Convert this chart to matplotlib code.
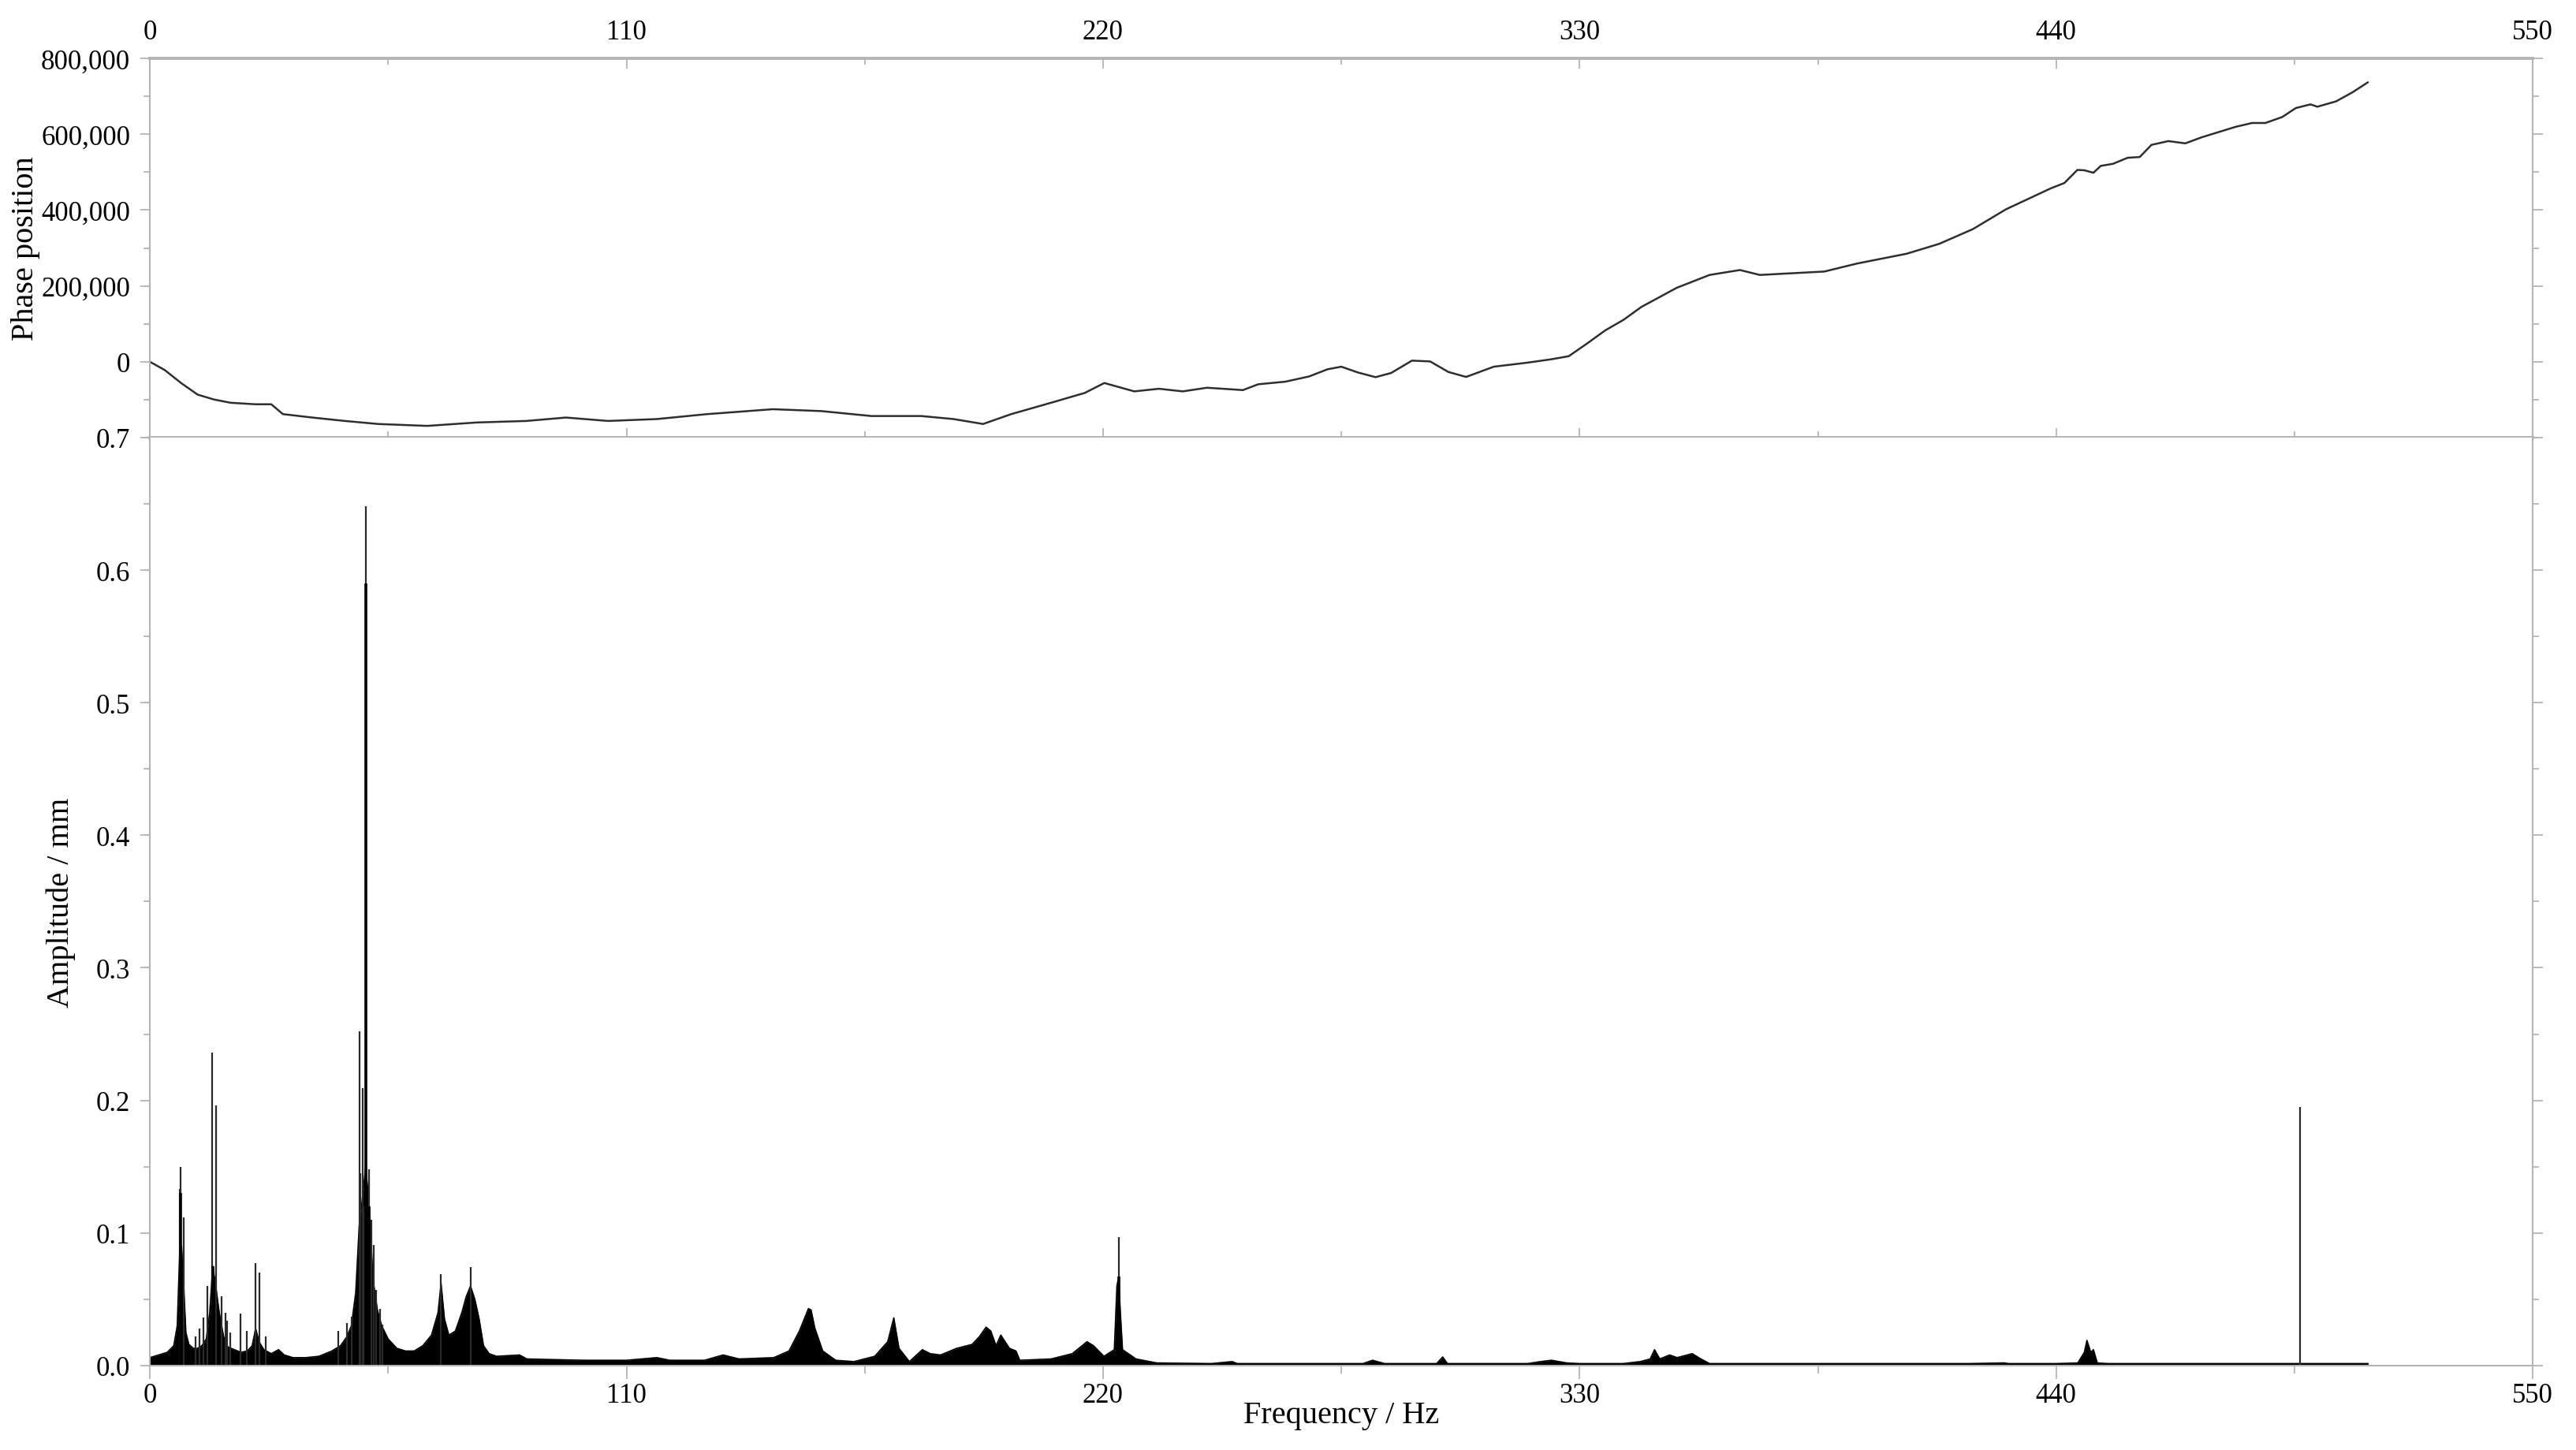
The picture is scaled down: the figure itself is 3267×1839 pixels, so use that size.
import matplotlib
matplotlib.use('Agg')
import matplotlib.pyplot as plt
from matplotlib.ticker import MultipleLocator, FuncFormatter
import numpy as np

plt.rcParams['font.family'] = ['Liberation Serif', 'DejaVu Serif']

# phase position curve (top panel)
phase_freq = [0, 3.4, 7.2, 11, 14.8, 18.6, 24.3, 28, 30.7, 37.5, 45, 52.7, 64, 75.5,
              86.9, 96, 105.8, 117, 128.6, 143.8, 155, 166.5, 178, 185.5, 192.3, 198.8,
              208, 215.8, 220.3, 227.2, 232.9, 238.4, 244, 252.3, 255.8, 262.1, 267.6,
              271.8, 275, 278.8, 282.9, 286.5, 291.3, 295.5, 299.7, 303.8, 310.2, 317.8,
              323.4, 327.5, 331.7, 335.9, 340.1, 344.3, 347.7, 352.4, 360, 367, 371.6,
              379, 386.5, 394, 405.5, 413, 420.8, 428.4, 438.7, 441.9, 444.9, 446.5,
              448.6, 450.3, 453.1, 456.5, 459.3, 462, 465.9, 469.8, 473.6, 481.4, 485.2,
              488.3, 492.2, 495.3, 498.7, 500.3, 504.6, 508.4, 511.9]
phase_val = [0, -21600, -56000, -86500, -99500, -108000, -112000, -112000, -138000,
             -147000, -156000, -164000, -169000, -160000, -156000, -147000, -156000,
             -151000, -138000, -125000, -130000, -143000, -143000, -151000, -164000,
             -138000, -108000, -82000, -55900, -78000, -71100, -78000, -68400, -74600,
             -59300, -52400, -38500, -19800, -12900, -28100, -40500, -29500, 3100, 1000,
             -26800, -39900, -12900, -2500, 6500, 14800, 48000, 82700, 110400, 145000,
             165900, 195000, 229000, 242000, 229000, 233500, 238000, 259000, 285000,
             311000, 350000, 402000, 457000, 471500, 506000, 505000, 498500, 516600,
             522000, 538000, 540000, 572000, 582000, 576000, 592000, 619500, 629700,
             629700, 645500, 669000, 678800, 672600, 686700, 710600, 736600]

# amplitude spectrum envelope (dark body of the spectrum)
env_freq = [0, 2, 4, 5.5, 6.3, 6.9, 7.3, 7.8, 8.3, 9, 10, 11, 12, 13, 13.8, 14.5, 15.2,
            16, 17, 18, 19.5, 21, 22.5, 23.6, 24.4, 25.2, 26.3, 28, 29.7, 31, 33, 36,
            39, 42, 44, 45.5, 46.5, 47.5, 48.3, 49, 49.8, 50.5, 51.5, 52.5, 53.5, 55,
            57, 59, 61, 63, 65, 66.5, 67.2, 68, 69, 70.5, 72, 73, 74, 75, 76, 77, 78.3,
            80, 85.3, 87, 100, 110, 117, 120, 128, 132.3, 136, 144, 147.5, 149.9, 152,
            152.6, 153.5, 155.3, 158.3, 162.5, 167.3, 170.3, 171.7, 172.9, 175.3, 178.3,
            180.1, 182.5, 186.2, 189.8, 191.5, 193, 194.1, 195.3, 196.4, 198.4, 199.9,
            200.8, 208, 212.9, 216.3, 217.8, 220.2, 222.6, 223.2, 223.6, 224, 224.5,
            227.6, 232.4, 245, 249.8, 251, 280, 282.2, 285, 297, 298.4, 299.5, 318,
            321, 323.5, 327, 330, 340, 344, 346.3, 347.3, 348.5, 350.8, 352.5, 356, 358,
            360, 420, 428, 429, 440, 445, 446.5, 447.1, 448, 448.6, 449.5, 452, 512]
env_amp = [0.006, 0.008, 0.010, 0.015, 0.030, 0.088, 0.090, 0.060, 0.025, 0.016, 0.013,
           0.013, 0.015, 0.020, 0.040, 0.075, 0.060, 0.040, 0.022, 0.014, 0.012, 0.010,
           0.011, 0.015, 0.028, 0.018, 0.012, 0.009, 0.012, 0.008, 0.006, 0.006, 0.007,
           0.011, 0.015, 0.022, 0.030, 0.055, 0.105, 0.125, 0.150, 0.125, 0.065, 0.042,
           0.030, 0.020, 0.013, 0.011, 0.011, 0.015, 0.023, 0.040, 0.062, 0.035, 0.023,
           0.026, 0.040, 0.052, 0.060, 0.050, 0.035, 0.015, 0.009, 0.007, 0.008, 0.005,
           0.004, 0.004, 0.006, 0.004, 0.004, 0.008, 0.005, 0.006, 0.011, 0.026, 0.043,
           0.042, 0.028, 0.011, 0.004, 0.003, 0.007, 0.018, 0.036, 0.013, 0.003, 0.012,
           0.009, 0.008, 0.013, 0.016, 0.022, 0.029, 0.026, 0.015, 0.023, 0.013, 0.011,
           0.004, 0.005, 0.009, 0.018, 0.015, 0.007, 0.012, 0.060, 0.067, 0.040, 0.012,
           0.005, 0.002, 0.0015, 0.003, 0.0015, 0.0015, 0.004, 0.0015, 0.0015, 0.0065,
           0.0015, 0.0015, 0.003, 0.004, 0.002, 0.0015, 0.0015, 0.003, 0.005, 0.012, 0.005,
           0.008, 0.006, 0.009, 0.005, 0.0015, 0.0015, 0.002, 0.0015, 0.0015, 0.002, 0.010,
           0.019, 0.010, 0.012, 0.002, 0.0015, 0.0015]

# single spectral lines standing above the envelope
spike_freq = [6.9, 7.1, 7.8, 10.5, 11.5, 12.4, 13.3, 14.4, 15.3, 16.6, 17.4, 17.9, 18.6,
              20.9, 22.3, 24.4, 25.3, 26.8, 43.4, 45.5, 46.5, 48.4, 48.6, 49.2, 49.5,
              49.8, 50.5, 51.2, 51.7, 52.2, 53.1, 53.7, 67.2, 74.0, 223.6, 496.2]
spike_amp = [0.133, 0.150, 0.112, 0.022, 0.028, 0.036, 0.060, 0.236, 0.196, 0.052, 0.040,
             0.034, 0.025, 0.039, 0.026, 0.077, 0.070, 0.022, 0.026, 0.032, 0.037, 0.252,
             0.145, 0.209, 0.120, 0.648, 0.148, 0.110, 0.091, 0.057, 0.043, 0.031, 0.069,
             0.074, 0.097, 0.195]

# dark cores of the strongest lines
core_freq = [7.0, 14.5, 49.8, 50.5, 223.6]
core_amp = [0.130, 0.075, 0.590, 0.120, 0.067]

freq_ticks = [0, 110, 220, 330, 440, 550]

spine_col = '#b4b4b4'
fs_tick = 25
fs_label = 29

fig = plt.figure(figsize=(32.67, 18.40), dpi=100)
ax1 = fig.add_axes([0.0582, 0.6978, 0.925, 0.2614])
ax2 = fig.add_axes([0.0582, 0.0582, 0.925, 0.6397])

# top panel
ax1.plot(phase_freq, phase_val, color='#2e2e2e', lw=1.8)
ax1.set_xlim(0, 550)
ax1.set_ylim(-200000, 800000)
ax1.set_xticks(freq_ticks)
ax1.xaxis.set_minor_locator(MultipleLocator(55))
ax1.set_yticks([0, 200000, 400000, 600000, 800000])
ax1.yaxis.set_minor_locator(MultipleLocator(100000))
ax1.yaxis.set_major_formatter(FuncFormatter(lambda v, p: '{:,.0f}'.format(v)))
ax1.tick_params(axis='x', which='both', top=True, bottom=True, labeltop=True,
                labelbottom=False, direction='in', colors=spine_col, labelcolor='black',
                labelsize=fs_tick, pad=12, length=9, width=1.3)
ax1.tick_params(axis='x', which='minor', length=6)
ax1.tick_params(axis='y', which='both', left=True, right=True, direction='out',
                colors=spine_col, labelcolor='black', labelsize=fs_tick, pad=9,
                length=9, width=1.3)
ax1.tick_params(axis='y', which='minor', length=6)
ax1.set_ylabel('Phase position', fontsize=fs_label)
ax1.yaxis.set_label_coords(-0.052, 0.5)
ax1.yaxis.label.set_va('center')

# bottom panel
ax2.fill_between(env_freq, 0, env_amp, color='black', lw=0)
ax2.plot(env_freq, env_amp, color='black', lw=1.2)
ax2.vlines(spike_freq, 0, spike_amp, color='#2a2a2a', lw=1.6)
ax2.vlines(core_freq, 0, core_amp, color='black', lw=2.6)
ax2.set_xlim(0, 550)
ax2.set_ylim(0, 0.7)
ax2.set_xticks(freq_ticks)
ax2.xaxis.set_minor_locator(MultipleLocator(55))
ax2.yaxis.set_major_locator(MultipleLocator(0.1))
ax2.yaxis.set_minor_locator(MultipleLocator(0.05))
ax2.yaxis.set_major_formatter(FuncFormatter(lambda v, p: '%.1f' % v))
ax2.tick_params(axis='x', which='both', direction='out', colors=spine_col,
                labelcolor='black', labelsize=fs_tick, pad=3, length=12, width=1.3)
ax2.tick_params(axis='x', which='minor', length=7)
ax2.tick_params(axis='y', which='both', left=True, right=True, direction='out',
                colors=spine_col, labelcolor='black', labelsize=fs_tick, pad=9,
                length=9, width=1.3)
ax2.tick_params(axis='y', which='minor', length=6)
ax2.set_xlabel('Frequency / Hz', fontsize=fs_label)
ax2.xaxis.set_label_coords(0.5, -0.0535)
ax2.xaxis.label.set_va('center')
ax2.set_ylabel('Amplitude / mm', fontsize=fs_label)
ax2.yaxis.set_label_coords(-0.0374, 0.5)
ax2.yaxis.label.set_va('center')

for ax in [ax1, ax2]:
    for side in ['left', 'right', 'top', 'bottom']:
        ax.spines[side].set_color(spine_col)
        ax.spines[side].set_linewidth(1.5)
ax1.spines['top'].set_linewidth(2.8)
ax1.spines['bottom'].set_linewidth(2.8)
ax2.spines['top'].set_visible(False)

fig.savefig('out.png', dpi=100)
